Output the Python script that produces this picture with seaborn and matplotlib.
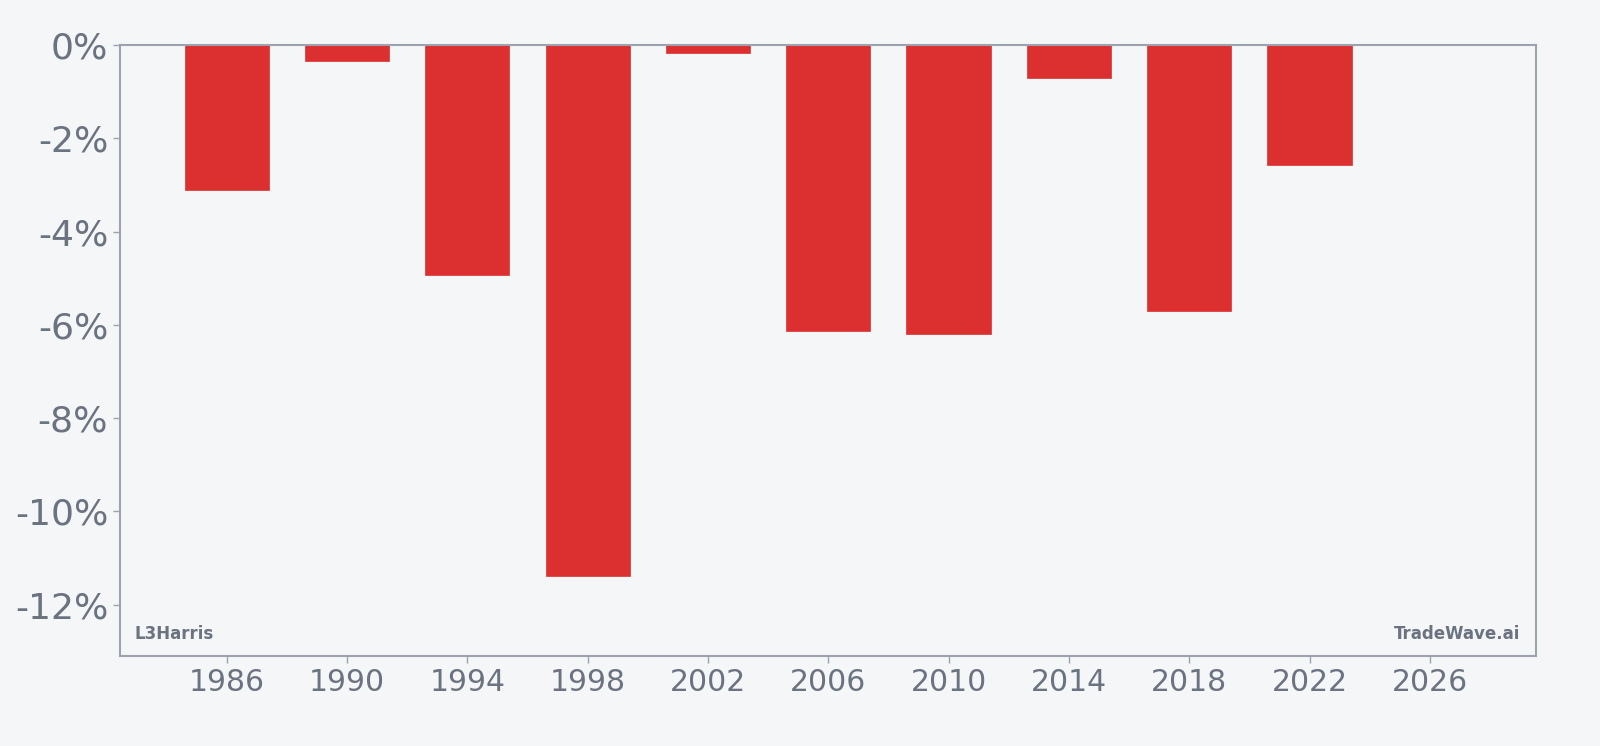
import matplotlib
matplotlib.use("Agg")
import matplotlib.pyplot as plt
import seaborn as sns
from matplotlib.ticker import FuncFormatter

years = [1986, 1990, 1994, 1998, 2002, 2006, 2010, 2014, 2018, 2022]
returns = [-3.10, -0.35, -4.94, -11.39, -0.17, -6.14, -6.19, -0.70, -5.70, -2.58]
xticks = [1986, 1990, 1994, 1998, 2002, 2006, 2010, 2014, 2018, 2022, 2026]
yticks = [0, -2, -4, -6, -8, -10, -12]

bg = "#f4f6f8"
text_col = "#6b7280"
spine_col = "#9ca3af"
bar_col = "#dc2f2f"

sns.set_style("white")
plt.rcParams['font.family'] = ['DejaVu Sans']

fig = plt.figure(figsize=(16, 7.46), dpi=100, facecolor=bg)
ax = fig.add_axes([0.075, 0.1206, 0.885, 0.8191])
ax.set_facecolor(bg)

sns.barplot(x=years, y=returns, native_scale=True, width=0.7, color=bar_col,
            saturation=1, edgecolor=bar_col, linewidth=0.5, ax=ax)

ax.set_xlim(1982.45, 2029.53)
ax.set_ylim(-13.1, 0)
ax.set_xticks(xticks)
ax.set_xticklabels([str(y) for y in xticks])
ax.set_yticks(yticks)
ax.yaxis.set_major_formatter(FuncFormatter(lambda v, p: f"{v:.0f}%"))

for s in ax.spines.values():
    s.set_visible(True)
    s.set_color(spine_col)
    s.set_linewidth(1.5)

ax.tick_params(axis="both", colors=spine_col, labelcolor=text_col,
               length=5, width=1, left=True, bottom=True)
ax.tick_params(axis="x", labelsize=21.5)
ax.tick_params(axis="y", labelsize=26)
ax.set_xlabel("")
ax.set_ylabel("")

ax.text(0.0105, 0.022, "L3Harris", transform=ax.transAxes, fontsize=12,
        fontweight="bold", color=text_col, ha="left", va="bottom")
ax.text(0.989, 0.022, "TradeWave.ai", transform=ax.transAxes, fontsize=12,
        fontweight="bold", color=text_col, ha="right", va="bottom")

fig.savefig("out.png", dpi=100, facecolor=bg)
